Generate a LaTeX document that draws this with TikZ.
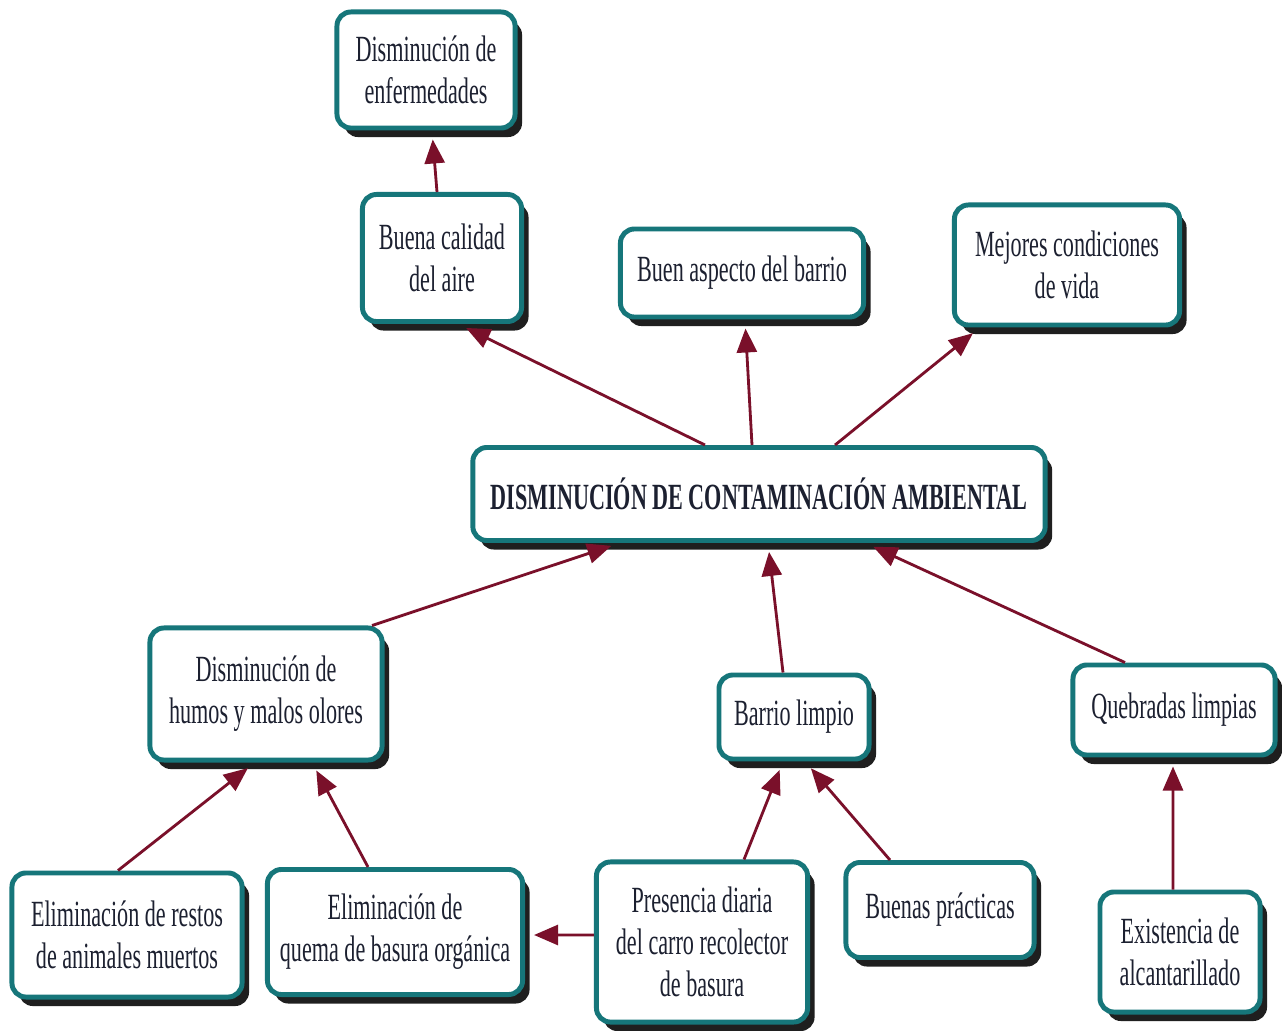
\documentclass[tikz,border=0pt]{standalone}
\usepackage{fontspec}
\setmainfont{Liberation Serif}[FakeStretch=0.6]
\usepackage{tikz}
\usetikzlibrary{arrows.meta,shadows}
\definecolor{mlteal}{RGB}{22,118,122}
\definecolor{mlmaroon}{RGB}{122,16,42}
\definecolor{mlink}{RGB}{28,32,48}

\begin{document}
\begin{tikzpicture}[x=0.01cm, y=-0.01cm,
  concepto/.style={draw=mlteal, line width=1.4pt, fill=white, rounded corners=1.4mm, align=center, text=mlink, inner sep=2pt,
    font=\fontsize{10.5}{12}\selectfont,
    drop shadow={shadow xshift=0.7mm, shadow yshift=-0.9mm, fill=black!88, opacity=1}},
  enlace/.style={-{Triangle[length=2.4mm, width=2mm]}, draw=mlmaroon, line width=0.8pt, shorten >=0.9mm}]
\path[use as bounding box, fill=white] (0,0) rectangle (1282,1031);
% top row
\node[concepto, minimum width=1.78cm, minimum height=1.16cm] (enf) at (426,70) {Disminución de\\enfermedades};
\node[concepto, minimum width=1.59cm, minimum height=1.27cm] (aire) at (442,258) {Buena calidad\\del aire};
\node[concepto, minimum width=2.43cm, minimum height=0.88cm] (aspecto) at (742,273) {Buen aspecto del barrio};
\node[concepto, minimum width=2.25cm, minimum height=1.2cm] (vida) at (1067,265) {Mejores condiciones\\de vida};
% centre
\node[concepto, minimum width=5.72cm, minimum height=0.93cm, font=\fontsize{10.5}{12}\selectfont\bfseries] (cen) at (759,494) {DISMINUCIÓN DE CONTAMINACIÓN AMBIENTAL};
% causes
\node[concepto, minimum width=2.32cm, minimum height=1.32cm] (humos) at (266,694) {Disminución de\\humos y malos olores};
\node[concepto, minimum width=1.5cm, minimum height=0.84cm] (limpio) at (794,717) {Barrio limpio};
\node[concepto, minimum width=2.02cm, minimum height=0.9cm] (quebradas) at (1174,710) {Quebradas limpias};
\node[concepto, minimum width=2.3cm, minimum height=1.24cm] (restos) at (127,935) {Eliminación de restos\\de animales muertos};
\node[concepto, minimum width=2.55cm, minimum height=1.25cm] (quema) at (395,932) {Eliminación de\\quema de basura orgánica};
\node[concepto, minimum width=2.11cm, minimum height=1.6cm] (presencia) at (702,942) {Presencia diaria\\del carro recolector\\de basura};
\node[concepto, minimum width=1.88cm, minimum height=0.95cm] (practicas) at (940,910) {Buenas prácticas};
\node[concepto, minimum width=1.6cm, minimum height=1.2cm] (alcant) at (1180,952) {Existencia de\\alcantarillado};
% Arrows
\draw[enlace] ([xshift=-0.05cm]aire.north) -- ([xshift=0.06cm]enf.south);
\draw[enlace] ([xshift=-0.54cm]cen.north) -- ([xshift=0.16cm]aire.south);
\draw[enlace] ([xshift=-0.07cm]cen.north) -- ([xshift=0.03cm]aspecto.south);
\draw[enlace] ([xshift=0.76cm]cen.north) -- ([xshift=-0.87cm]vida.south);
\draw[enlace] ([xshift=1.06cm]humos.north) -- ([xshift=-1.39cm]cen.south);
\draw[enlace] ([xshift=-0.11cm]limpio.north) -- ([xshift=0.09cm]cen.south);
\draw[enlace] ([xshift=-0.49cm]quebradas.north) -- ([xshift=1.06cm]cen.south);
\draw[enlace] ([xshift=-0.09cm]restos.north) -- ([xshift=-0.11cm]humos.south);
\draw[enlace] ([xshift=-0.27cm]quema.north) -- ([xshift=0.46cm]humos.south);
\draw[enlace] ([xshift=0.42cm]presencia.north) -- ([xshift=-0.11cm]limpio.south);
\draw[enlace] ([xshift=-0.5cm]practicas.north) -- ([xshift=0.11cm]limpio.south);
\draw[enlace] ([xshift=-0.07cm]alcant.north) -- ([xshift=-0.01cm]quebradas.south);
\draw[enlace] ([yshift=0.07cm]presencia.west) -- ([yshift=-0.03cm]quema.east);
\end{tikzpicture}
\end{document}
